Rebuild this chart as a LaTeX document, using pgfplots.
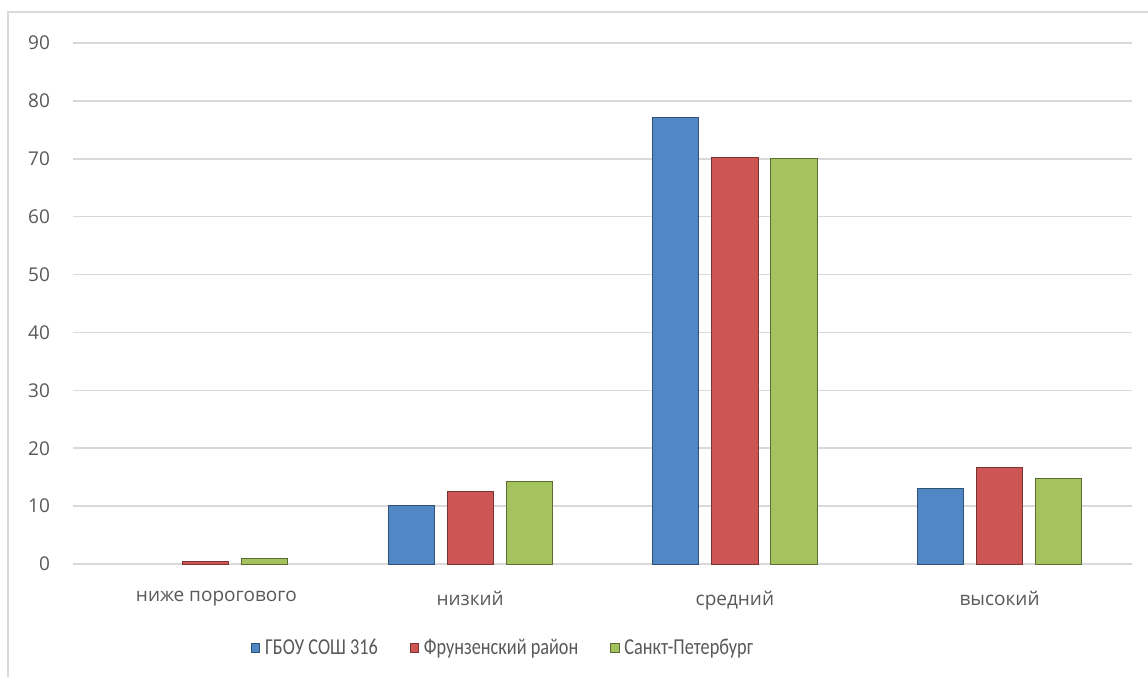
\documentclass[border=0pt]{standalone}
\usepackage{fontspec}
\setmainfont{Open Sans}
\newfontfamily\legfont[FakeStretch=0.8]{Carlito}
\usepackage{pgfplots}
\pgfplotsset{compat=1.18}
\definecolor{txt}{HTML}{595959}
\definecolor{gridc}{HTML}{D9D9D9}
\definecolor{cblue}{HTML}{5287C6}
\definecolor{cred}{HTML}{CD5553}
\definecolor{cgreen}{HTML}{A4C25E}
\begin{document}
\begin{tikzpicture}
\useasboundingbox (0,0) rectangle (574pt,338.5pt);
\fill[white] (0,0) rectangle (574pt,338.5pt);
\draw[gridc, line width=0.8pt] (4pt,0) -- (4pt,332.5pt) -- (574pt,332.5pt);
\begin{axis}[
  at={(36.5pt,56.5pt)}, anchor=south west,
  scale only axis, width=529.5pt, height=260.5pt,
  xmin=-0.5, xmax=3.5, ymin=0, ymax=90,
  axis line style={draw=none},
  ytick={0,10,...,90},
  xtick={0,1,2,3},
  xticklabels={\hspace*{11pt}ниже порогового, низкий, средний, высокий},
  major tick length=0pt,
  ymajorgrids, grid style={draw=gridc, line width=0.8pt},
  tick label style={font=\fontsize{9.5}{11}\selectfont, text=txt},
  /pgf/number format/assume math mode=true,
  yticklabel style={xshift=-8pt},
  xticklabel style={yshift=-10pt},
  bar width=0.174,
  legend columns=3,
  legend style={draw=none, fill=none, at={(0.407,-0.161)}, anchor=center,
    font=\legfont\fontsize{11.4}{13}\selectfont, text=txt,
    /tikz/every even column/.append style={column sep=14pt},
    /tikz/every odd column/.append style={column sep=0.5pt}},
  legend image code/.code={\fill[#1] (0pt,-2.1pt) rectangle (4.2pt,2.1pt);},
]
\addplot[ybar, bar shift=-0.223, fill=cblue, draw=cblue!60!black, line width=0.4pt]
  coordinates {(1,10.1) (2,77.1) (3,13.1)};
\addplot[ybar, bar shift=0, fill=cred, draw=cred!60!black, line width=0.4pt]
  coordinates {(0,0.5) (1,12.6) (2,70.3) (3,16.7)};
\addplot[ybar, bar shift=0.223, fill=cgreen, draw=cgreen!55!black, line width=0.4pt]
  coordinates {(0,1.0) (1,14.3) (2,70.1) (3,14.8)};
\legend{ГБОУ СОШ 316, Фрунзенский район, Санкт-Петербург}
\end{axis}
\end{tikzpicture}
\end{document}
